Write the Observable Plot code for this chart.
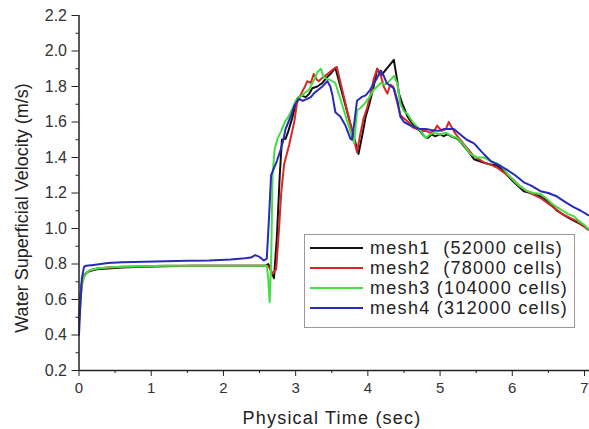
<!DOCTYPE html>
<html>
<head>
<meta charset="utf-8">
<script src="https://cdn.jsdelivr.net/npm/d3@7"></script>
<script src="https://cdn.jsdelivr.net/npm/@observablehq/plot@0.6"></script>
<style>
  body { margin: 0; background: #fff; }
  #wrap { position: relative; width: 589px; height: 429px; font-family: "Liberation Sans", Arial, sans-serif; overflow: hidden; }
  .ttl { position: absolute; color: #222; white-space: nowrap; }
  #legend { position: absolute; left: 304px; top: 234px; width: 269px; height: 89px; border: 1px solid #999; background: #fff; box-sizing: content-box; padding-top: 3px; }
  .row { height: 20px; display: flex; align-items: center; font-size: 18px; letter-spacing: 1.3px; white-space: pre; color: #222; }
  .row svg { margin-left: 5px; margin-right: 7px; }
</style>
</head>
<body>
<div id="wrap">
  <div id="chart"></div>
  <div class="ttl" style="left:22px;top:208px;font-size:18px;transform:translate(-50%,-50%) rotate(-90deg);">Water Superficial Velocity (m/s)</div>
  <div class="ttl" style="left:332px;top:418px;font-size:18px;letter-spacing:1.2px;transform:translate(-50%,-50%);">Physical Time (sec)</div>
  <div id="legend"></div>
</div>
<script>
const seriesNames = ["mesh1  (52000 cells)", "mesh2  (78000 cells)", "mesh3 (104000 cells)", "mesh4 (312000 cells)"];
const seriesColors = ["#111111", "#d62828", "#44dd44", "#2a2ab8"];

const mesh1T = [0, 0.02, 0.04, 0.06, 0.1, 0.15, 0.25, 0.4, 0.6, 0.9, 1.2, 1.6, 2.0, 2.4, 2.58, 2.62, 2.66, 2.70, 2.74, 2.78, 2.81, 2.86, 2.90, 2.95, 3.02, 3.07, 3.14, 3.19, 3.23, 3.30, 3.37, 3.43, 3.48, 3.55, 3.87, 3.92, 3.97, 4.02, 4.08, 4.13, 4.18, 4.36, 4.40, 4.43, 4.48, 4.55, 4.60, 4.66, 4.72, 4.78, 4.83, 4.88, 4.93, 5.00, 5.05, 5.10, 5.15, 5.24, 5.30, 5.38, 5.47, 5.54, 5.61, 5.70, 5.79, 5.86, 5.93, 6.00, 6.08, 6.16, 6.25, 6.32, 6.39, 6.47, 6.55, 6.62, 6.70, 6.78, 6.85, 6.92, 7.0, 7.05];
const mesh1V = [0.50, 0.62, 0.70, 0.73, 0.75, 0.76, 0.77, 0.775, 0.78, 0.785, 0.787, 0.79, 0.79, 0.79, 0.79, 0.80, 0.76, 0.72, 0.95, 1.30, 1.50, 1.505, 1.55, 1.62, 1.73, 1.75, 1.74, 1.76, 1.79, 1.80, 1.82, 1.85, 1.87, 1.905, 1.42, 1.52, 1.63, 1.70, 1.80, 1.90, 1.86, 1.95, 1.85, 1.76, 1.70, 1.63, 1.60, 1.57, 1.55, 1.52, 1.51, 1.53, 1.52, 1.53, 1.52, 1.53, 1.52, 1.505, 1.48, 1.44, 1.39, 1.38, 1.37, 1.36, 1.355, 1.33, 1.30, 1.27, 1.24, 1.21, 1.20, 1.19, 1.18, 1.16, 1.13, 1.10, 1.08, 1.06, 1.045, 1.03, 1.01, 0.995];

const mesh2T = [0, 0.02, 0.04, 0.07, 0.1, 0.15, 0.25, 0.4, 0.6, 0.9, 1.2, 1.6, 2.0, 2.4, 2.6, 2.64, 2.68, 2.73, 2.77, 2.80, 2.84, 2.91, 2.98, 3.02, 3.06, 3.09, 3.13, 3.16, 3.21, 3.25, 3.29, 3.32, 3.37, 3.41, 3.47, 3.53, 3.57, 3.85, 3.89, 3.94, 3.99, 4.04, 4.08, 4.13, 4.18, 4.22, 4.27, 4.31, 4.35, 4.40, 4.45, 4.50, 4.56, 4.62, 4.68, 4.74, 4.80, 4.86, 4.92, 4.96, 5.02, 5.08, 5.12, 5.16, 5.22, 5.30, 5.38, 5.46, 5.54, 5.62, 5.70, 5.80, 5.90, 6.00, 6.10, 6.20, 6.30, 6.40, 6.50, 6.60, 6.70, 6.80, 6.90, 7.0, 7.05];
const mesh2V = [0.48, 0.60, 0.69, 0.73, 0.75, 0.765, 0.775, 0.78, 0.785, 0.788, 0.79, 0.79, 0.79, 0.79, 0.79, 0.78, 0.745, 0.77, 1.0, 1.2, 1.36, 1.47, 1.60, 1.71, 1.74, 1.77, 1.80, 1.83, 1.82, 1.87, 1.84, 1.83, 1.85, 1.86, 1.88, 1.90, 1.91, 1.43, 1.52, 1.62, 1.68, 1.76, 1.84, 1.90, 1.86, 1.80, 1.76, 1.81, 1.80, 1.72, 1.64, 1.62, 1.60, 1.57, 1.56, 1.55, 1.55, 1.54, 1.55, 1.58, 1.55, 1.56, 1.60, 1.57, 1.53, 1.49, 1.45, 1.41, 1.39, 1.37, 1.36, 1.34, 1.31, 1.28, 1.24, 1.21, 1.19, 1.17, 1.14, 1.11, 1.08, 1.06, 1.04, 1.01, 0.995];

const mesh3T = [0, 0.02, 0.04, 0.07, 0.1, 0.15, 0.25, 0.4, 0.6, 0.9, 1.2, 1.6, 2.0, 2.4, 2.6, 2.62, 2.64, 2.66, 2.68, 2.71, 2.75, 2.80, 2.85, 2.90, 2.95, 3.00, 3.05, 3.09, 3.14, 3.18, 3.22, 3.26, 3.30, 3.35, 3.39, 3.46, 3.55, 3.81, 3.85, 3.90, 3.95, 4.02, 4.08, 4.13, 4.18, 4.23, 4.27, 4.32, 4.36, 4.41, 4.45, 4.50, 4.55, 4.62, 4.69, 4.75, 4.80, 4.86, 4.92, 5.00, 5.08, 5.16, 5.24, 5.33, 5.42, 5.51, 5.61, 5.70, 5.77, 5.84, 5.93, 6.02, 6.10, 6.21, 6.30, 6.39, 6.47, 6.55, 6.62, 6.70, 6.78, 6.85, 6.93, 7.0, 7.05];
const mesh3V = [0.46, 0.58, 0.68, 0.73, 0.75, 0.765, 0.775, 0.78, 0.785, 0.788, 0.79, 0.79, 0.79, 0.79, 0.79, 0.72, 0.585, 0.80, 1.30, 1.45, 1.505, 1.55, 1.60, 1.63, 1.67, 1.72, 1.74, 1.75, 1.77, 1.78, 1.81, 1.84, 1.88, 1.90, 1.85, 1.84, 1.82, 1.48, 1.665, 1.68, 1.70, 1.74, 1.78, 1.80, 1.82, 1.81, 1.82, 1.84, 1.86, 1.815, 1.70, 1.66, 1.645, 1.60, 1.57, 1.54, 1.51, 1.53, 1.54, 1.53, 1.54, 1.52, 1.51, 1.47, 1.42, 1.40, 1.40, 1.38, 1.37, 1.355, 1.31, 1.27, 1.24, 1.21, 1.20, 1.195, 1.17, 1.14, 1.12, 1.10, 1.08, 1.07, 1.04, 1.02, 1.00];

const mesh4T = [0, 0.02, 0.04, 0.07, 0.1, 0.2, 0.4, 0.6, 0.9, 1.2, 1.5, 1.8, 2.1, 2.3, 2.38, 2.44, 2.50, 2.56, 2.60, 2.63, 2.66, 2.70, 2.74, 2.79, 2.83, 2.86, 2.90, 2.94, 2.98, 3.04, 3.10, 3.16, 3.21, 3.25, 3.31, 3.37, 3.44, 3.48, 3.51, 3.55, 3.62, 3.69, 3.76, 3.78, 3.82, 3.85, 3.91, 3.97, 4.03, 4.08, 4.13, 4.18, 4.22, 4.26, 4.29, 4.36, 4.41, 4.45, 4.50, 4.59, 4.66, 4.73, 4.80, 4.88, 4.98, 5.05, 5.12, 5.19, 5.28, 5.37, 5.47, 5.58, 5.70, 5.80, 5.93, 6.04, 6.16, 6.27, 6.39, 6.50, 6.62, 6.73, 6.85, 6.95, 7.05];
const mesh4V = [0.40, 0.58, 0.72, 0.785, 0.79, 0.795, 0.805, 0.81, 0.812, 0.815, 0.818, 0.82, 0.826, 0.832, 0.836, 0.85, 0.84, 0.82, 0.83, 1.05, 1.30, 1.34, 1.38, 1.44, 1.50, 1.56, 1.60, 1.64, 1.69, 1.73, 1.72, 1.73, 1.74, 1.76, 1.78, 1.80, 1.83, 1.80, 1.75, 1.655, 1.63, 1.58, 1.505, 1.50, 1.62, 1.72, 1.74, 1.75, 1.78, 1.815, 1.85, 1.89, 1.86, 1.82, 1.81, 1.79, 1.72, 1.63, 1.60, 1.58, 1.57, 1.56, 1.56, 1.555, 1.55, 1.56, 1.56, 1.56, 1.53, 1.50, 1.48, 1.43, 1.38, 1.36, 1.33, 1.30, 1.26, 1.24, 1.21, 1.20, 1.18, 1.15, 1.12, 1.10, 1.075];

const xTicks = [0, 1, 2, 3, 4, 5, 6, 7];
const xMinor = [0.5, 1.5, 2.5, 3.5, 4.5, 5.5, 6.5];
const yTicks = [0.2, 0.4, 0.6, 0.8, 1.0, 1.2, 1.4, 1.6, 1.8, 2.0, 2.2];
const yMinor = [0.3, 0.5, 0.7, 0.9, 1.1, 1.3, 1.5, 1.7, 1.9, 2.1];

const allT = [mesh1T, mesh2T, mesh3T, mesh4T];
const allV = [mesh1V, mesh2V, mesh3V, mesh4V];
const rows = [];
allT.forEach((ts, i) => ts.forEach((t, j) => rows.push({series: seriesNames[i], t, v: allV[i][j]})));

const chart = Plot.plot({
  width: 589,
  height: 429,
  marginLeft: 78.5,
  marginRight: 0,
  marginTop: 15,
  marginBottom: 59,
  style: {fontFamily: "'Liberation Sans', Arial, sans-serif", fontSize: "16px", color: "#333", background: "#fff"},
  x: {domain: [0, 7], range: [78.5, 584]},
  y: {domain: [0.2, 2.2]},
  color: {domain: seriesNames, range: seriesColors},
  marks: [
    Plot.line(rows, {x: "t", y: "v", z: "series", stroke: "series", strokeWidth: 2, curve: "linear"}),
    Plot.axisX({ticks: xTicks, tickSize: 6, tickPadding: 6, tickFormat: d3.format("d"), label: null, stroke: "#222", fontSize: 15}),
    Plot.axisX({ticks: xMinor, tickSize: 3, tickFormat: () => "", label: null, stroke: "#222"}),
    Plot.axisY({ticks: yTicks, tickSize: 7, tickPadding: 5, tickFormat: d3.format(".1f"), label: null, stroke: "#222", fontSize: 16}),
    Plot.axisY({ticks: yMinor, tickSize: 3, tickFormat: () => "", label: null, stroke: "#222"}),
    Plot.ruleY([0.2], {stroke: "#222", strokeWidth: 1.5}),
    Plot.ruleX([0], {stroke: "#222", strokeWidth: 1.5})
  ]
});
document.getElementById("chart").appendChild(chart);

const legend = d3.select("#legend");
seriesNames.forEach((name, i) => {
  const row = legend.append("div").attr("class", "row");
  const svg = row.append("svg").attr("width", 53).attr("height", 4);
  svg.append("line").attr("x1", 0).attr("x2", 53).attr("y1", 2).attr("y2", 2)
    .attr("stroke", seriesColors[i]).attr("stroke-width", 1.8);
  row.append("span").text(name);
});
</script>
</body>
</html>
